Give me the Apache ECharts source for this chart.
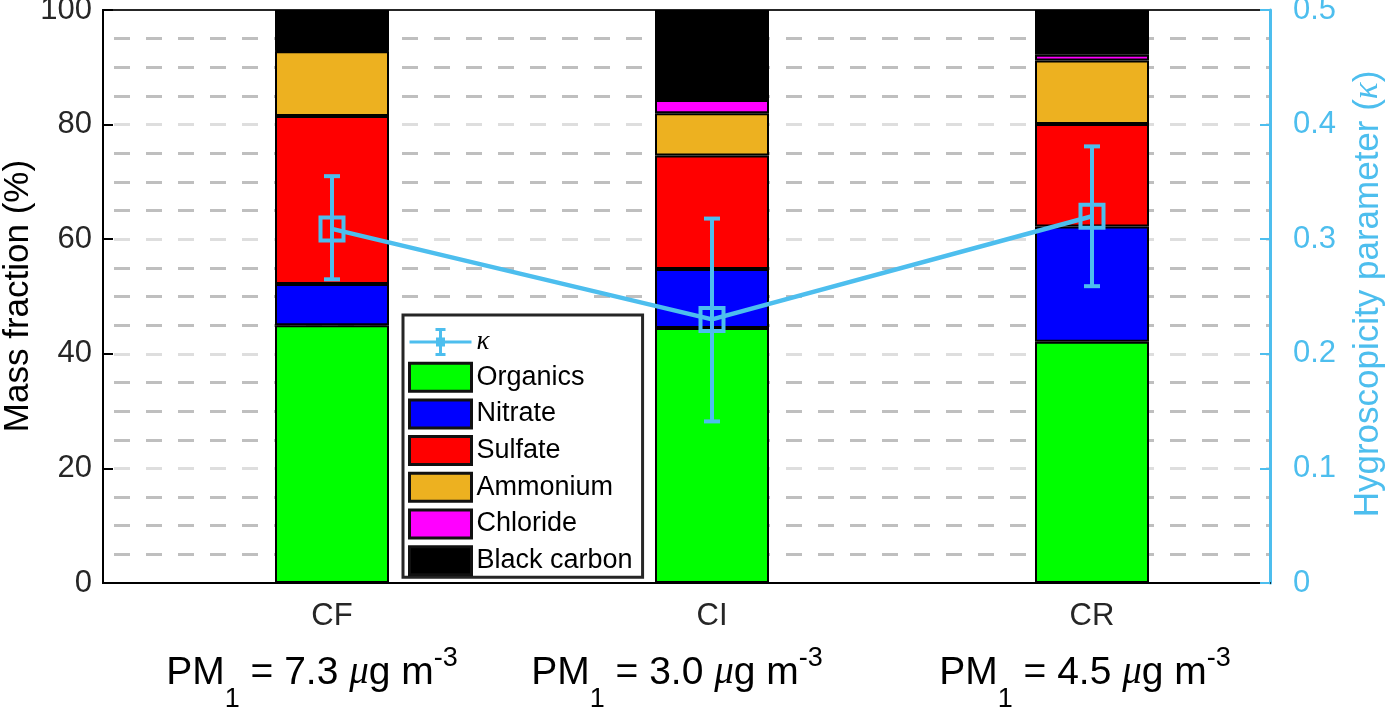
<!DOCTYPE html>
<html>
<head>
<meta charset="utf-8">
<script src="https://cdn.jsdelivr.net/npm/echarts@6/dist/echarts.min.js"></script>
<style>
  html, body { margin: 0; padding: 0; background: #fff; }
  #chart { width: 1387px; height: 707px; }
</style>
</head>
<body>
<div id="chart"></div>
<script>
// sites
var sites = ['CF', 'CI', 'CR'];
var pm1 = ['7.3', '3.0', '4.5'];

// mass fractions (%)
var organics = [45.0, 44.5, 42.1];
var nitrate = [7.2, 10.3, 20.1];
var sulfate = [29.3, 19.8, 17.9];
var ammonium = [11.3, 7.4, 11.1];
var chloride = [0.1, 2.3, 1.0];
var blackCarbon = [7.1, 15.7, 7.8];

// hygroscopicity parameter kappa, with error bar ends
var kappa = [0.309, 0.230, 0.320];
var kappaLow = [0.265, 0.141, 0.259];
var kappaHigh = [0.355, 0.318, 0.381];

var KC = '#4DBEEE';
var FONT = 'Liberation Sans';

function barSeries(name, values, color) {
  return {
    name: name,
    type: 'bar',
    stack: 'mass',
    xAxisIndex: 1,
    yAxisIndex: 2,
    barWidth: 114,
    data: values,
    itemStyle: { color: color, borderColor: '#000', borderWidth: 2 },
    z: 2
  };
}

var kappaData = [];
for (var i = 0; i < kappa.length; i++) {
  kappaData.push([i, kappa[i], kappaLow[i], kappaHigh[i]]);
}

var chartDom = document.getElementById('chart');
var myChart = echarts.init(chartDom);
var option;

option = {
  animation: false,
  backgroundColor: '#fff',
  grid: [
    // frame with the visible axes (x runs 0.4 .. 3.47 in bar units)
    {
      left: 103, right: 117, top: 10, bottom: 124,
      outerBoundsMode: 'none', containLabel: false,
      show: true, borderColor: '#262626', borderWidth: 2, backgroundColor: '#fff', z: 0
    },
    // data grid: same scale, category centres at 1, 2, 3
    { left: 142, right: 105, top: 10, bottom: 124, outerBoundsMode: 'none', containLabel: false, show: false }
  ],
  // axis titles
  graphic: [
    {
      type: 'text', x: 18, y: 296, rotation: Math.PI / 2,
      style: {
        text: 'Mass fraction (%)', fill: '#000',
        font: '35px "Liberation Sans"', align: 'center', verticalAlign: 'middle'
      }
    },
    {
      type: 'text', x: 1368, y: 294, rotation: Math.PI / 2,
      style: {
        text: 'Hygroscopicity parameter ({k|κ})', fill: KC,
        font: '35px "Liberation Sans"', align: 'center', verticalAlign: 'middle',
        rich: { k: { fontFamily: 'Liberation Serif', fontStyle: 'italic', fontSize: 35, fill: KC } }
      }
    }
  ],
  legend: {
    orient: 'vertical',
    left: 403, top: 315,
    padding: [13, 10, 1, 5],
    itemWidth: 62, itemHeight: 28, itemGap: 5.7,
    icon: 'rect',
    backgroundColor: '#fff',
    borderColor: '#262626', borderWidth: 3,
    itemStyle: { borderColor: '#111', borderWidth: 3 },
    textStyle: {
      fontFamily: FONT, fontSize: 27, color: '#000',
      rich: { k: { fontFamily: 'Liberation Serif', fontStyle: 'italic', fontSize: 27, color: '#000' } }
    },
    formatter: function (name) {
      return name === 'κ' ? '{k|κ}' : name;
    },
    data: [
      {
        name: 'κ',
        icon: 'path://M0 12.5H62V15.5H0Z M29.5 0H32.5V28H29.5Z M26 0H36V3H26Z M26 25H36V28H26Z M26.5 9.5H35.5V18.5H26.5Z',
        itemStyle: { borderWidth: 0 }
      },
      'Organics', 'Nitrate', 'Sulfate', 'Ammonium', 'Chloride', 'Black carbon'
    ]
  },
  xAxis: [
    {
      gridIndex: 0,
      type: 'value',
      min: 0.4, max: 3.47,
      splitLine: { show: false },
      axisTick: { show: false },
      axisLabel: { show: false },
      axisLine: { show: true, lineStyle: { color: '#000', width: 2 } },
      z: 3
    },
    {
      gridIndex: 1,
      type: 'category',
      data: sites,
      boundaryGap: true,
      axisLine: { show: false },
      axisTick: { show: false },
      splitLine: { show: false },
      axisLabel: {
        margin: 16,
        formatter: function (v, idx) {
          return '{c|' + v + '}\n{p|PM}{sub|1}{p| = ' + pm1[idx] + ' }{mu|μ}{p|g m}{sup|-3}{g' + idx + '|}';
        },
        rich: {
          c: { fontFamily: FONT, fontSize: 31, color: '#262626', lineHeight: 34 },
          p: { fontFamily: FONT, fontSize: 39, color: '#000', lineHeight: 73 },
          mu: { fontFamily: 'Liberation Serif', fontStyle: 'italic', fontSize: 39, color: '#000', lineHeight: 73 },
          sub: { fontFamily: FONT, fontSize: 27, color: '#000', verticalAlign: 'top', padding: [53, 0, 0, 0] },
          sup: { fontFamily: FONT, fontSize: 27, color: '#000', verticalAlign: 'top', padding: [12, 0, 0, 0] },
          g0: { width: 40 },
          g1: { width: 70 },
          g2: { width: 14 }
        }
      }
    }
  ],
  yAxis: [
    {
      gridIndex: 0,
      type: 'value',
      min: 0, max: 100, interval: 20,
      axisLine: { show: true, lineStyle: { color: '#000', width: 2 } },
      axisTick: { show: true, inside: true, length: 10, lineStyle: { color: '#000', width: 2 } },
      axisLabel: { fontFamily: FONT, fontSize: 31, color: '#262626', margin: 11 },
      splitLine: {
        show: true, showMinLine: false, showMaxLine: false,
        lineStyle: { color: '#dedede', width: 3, type: [16, 16], dashOffset: 21 }
      },
      minorTick: { show: false, splitNumber: 4 },
      minorSplitLine: { show: true, lineStyle: { color: '#bfbfbf', width: 3, type: [16, 16], dashOffset: 21 } },
      z: 1
    },
    {
      gridIndex: 0,
      type: 'value',
      position: 'right',
      min: 0, max: 0.5, interval: 0.1,
      axisLine: { show: true, lineStyle: { color: KC, width: 3 } },
      axisTick: { show: true, inside: true, length: 10, lineStyle: { color: KC, width: 2 } },
      axisLabel: { fontFamily: FONT, fontSize: 31, color: KC, margin: 23 },
      splitLine: { show: false },
      z: 3
    },
    { gridIndex: 1, type: 'value', min: 0, max: 100, show: false },
    { gridIndex: 1, type: 'value', min: 0, max: 0.5, show: false }
  ],
  series: [
    barSeries('Organics', organics, '#00FF00'),
    barSeries('Nitrate', nitrate, '#0000FF'),
    barSeries('Sulfate', sulfate, '#FF0000'),
    barSeries('Ammonium', ammonium, '#EDB120'),
    barSeries('Chloride', chloride, '#FF00FF'),
    barSeries('Black carbon', blackCarbon, '#000000'),
    {
      name: 'kappa line',
      type: 'line',
      xAxisIndex: 1,
      yAxisIndex: 3,
      data: kappa,
      symbol: 'none',
      lineStyle: { color: KC, width: 4.5 },
      itemStyle: { color: KC },
      z: 5
    },
    {
      name: 'κ',
      type: 'custom',
      xAxisIndex: 1,
      yAxisIndex: 3,
      data: kappaData,
      itemStyle: { color: KC },
      z: 6,
      renderItem: function (params, api) {
        var c = api.coord([api.value(0), api.value(1)]);
        var lo = api.coord([api.value(0), api.value(2)]);
        var hi = api.coord([api.value(0), api.value(3)]);
        var cap = 8, s = 11.5;
        var st = { stroke: KC, lineWidth: 4, fill: null };
        return {
          type: 'group',
          children: [
            { type: 'line', shape: { x1: lo[0], y1: lo[1], x2: hi[0], y2: hi[1] }, style: st },
            { type: 'line', shape: { x1: hi[0] - cap, y1: hi[1], x2: hi[0] + cap, y2: hi[1] }, style: st },
            { type: 'line', shape: { x1: lo[0] - cap, y1: lo[1], x2: lo[0] + cap, y2: lo[1] }, style: st },
            { type: 'rect', shape: { x: c[0] - s, y: c[1] - s, width: 2 * s, height: 2 * s }, style: st }
          ]
        };
      }
    }
  ]
};

option && myChart.setOption(option);
</script>
</body>
</html>
